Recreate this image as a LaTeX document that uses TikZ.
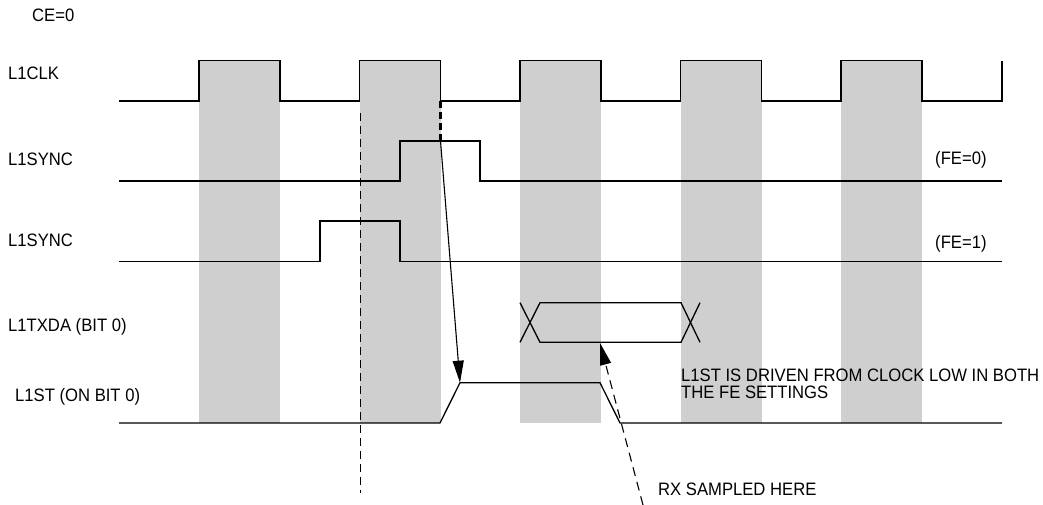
\documentclass[tikz,border=0pt]{standalone}
\usepackage{fontspec}
\setmainfont{Liberation Sans}
\newfontfamily\narrowfont[FakeStretch=0.925]{Liberation Sans}
\usetikzlibrary{arrows.meta}
\begin{document}
\begin{tikzpicture}[x=1pt,y=-1pt,
  sig/.style={line width=1.3pt,line join=miter},
  band/.style={fill=black!19},
  lbl/.style={anchor=base west,inner sep=0pt,font=\narrowfont\fontsize{18}{17}\selectfont},
  bigtip/.style={-{Triangle[length=22pt,width=11pt]}}]
\useasboundingbox (0,0) rectangle (1043,505);
% shaded clock-high bands
\foreach \r in {199,359.5,520,680.5,841}
  \fill[band] (\r,60.7) rectangle ({\r+81},423);
% labels
\node[lbl] (ce) at (32,21.7) {CE=0};
\node[lbl] (clk) at (8,80) {L1CLK};
\node[lbl] (sync0) at (8,166) {L1SYNC};
\node[lbl] (sync1) at (8,246) {L1SYNC};
\node[lbl] (txda) at (8,331) {L1TXDA (BIT 0)};
\node[lbl] (st) at (15,401) {L1ST (ON BIT 0)};
\node[lbl] (fe0) at (935,165) {(FE=0)};
\node[lbl] (fe1) at (935,248) {(FE=1)};
\node[lbl] (note1) at (681,381) {L1ST IS DRIVEN FROM CLOCK LOW IN BOTH};
\node[lbl] (note2) at (681,398) {THE FE SETTINGS};
\node[lbl] (rx) at (658,495) {RX SAMPLED HERE};
% clock
\draw[sig] (119,101) -| (199,60.7) -| (280,101) -| (359.5,60.7) -| (440.5,101)
  -| (520,60.7) -| (601,101) -| (680.5,60.7) -| (761.5,101) -| (841,60.7)
  -| (922,101) -| (1002,60.7);
% L1SYNC FE=0
\draw[sig] (119,181) -| (400,141) -| (480,181) -- (1002,181);
% L1SYNC FE=1
\draw[sig] (119,261.7) -| (320,221) -| (400,261.7) -- (1002,261.7);
% L1TXDA
\draw[sig] (520,302.7) -- (540,342.3) -- (681,342.3) -- (700,302.7);
\draw[sig] (520,342.3) -- (540,302.7) -- (681,302.7) -- (700,342.3);
% L1ST
\draw[sig] (119,423) -- (440,423) -- (460,382.7) -- (600,382.7) -- (620,423) -- (1002,423);
% markers
\coordinate (a1) at (440.5,101);
\coordinate (a2) at (440.5,141);
\coordinate (tip1) at (460,382.7);
\coordinate (d1) at (360,113);
\coordinate (d2) at (360,493);
\coordinate (r1) at (643,505);
\coordinate (tip2) at (600,343);
\draw[line width=3pt,dash pattern=on 7pt off 4pt] (a1) -- (a2);
\draw[line width=1.1pt,bigtip] (a2) -- (tip1);
\draw[line width=0.9pt,dash pattern=on 8pt off 5pt] (d1) -- (d2);
\draw[line width=1.1pt,dash pattern=on 9pt off 6pt,bigtip] (r1) -- (tip2);
\end{tikzpicture}
\end{document}
